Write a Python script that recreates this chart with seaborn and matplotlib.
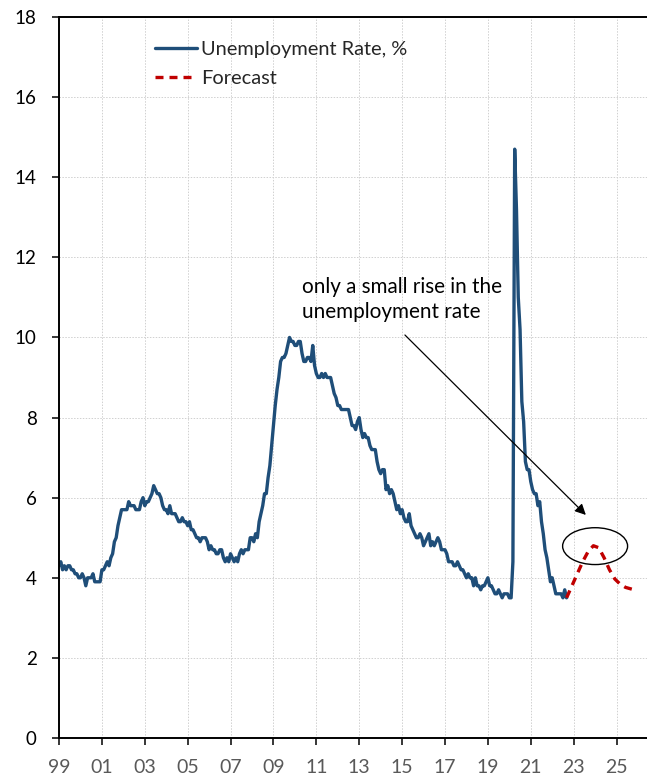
import numpy as np
import pandas as pd
import matplotlib
matplotlib.use("Agg")
import matplotlib.pyplot as plt
import seaborn as sns
from matplotlib.patches import Ellipse

# Monthly unemployment rate, Jan 1999 - Sep 2022
unrate = [
    4.3, 4.4, 4.2, 4.3, 4.2, 4.3, 4.3, 4.2, 4.2, 4.1, 4.1, 4.0,  # 1999
    4.0, 4.1, 4.0, 3.8, 4.0, 4.0, 4.0, 4.1, 3.9, 3.9, 3.9, 3.9,  # 2000
    4.2, 4.2, 4.3, 4.4, 4.3, 4.5, 4.6, 4.9, 5.0, 5.3, 5.5, 5.7,  # 2001
    5.7, 5.7, 5.7, 5.9, 5.8, 5.8, 5.8, 5.7, 5.7, 5.7, 5.9, 6.0,  # 2002
    5.8, 5.9, 5.9, 6.0, 6.1, 6.3, 6.2, 6.1, 6.1, 6.0, 5.8, 5.7,  # 2003
    5.7, 5.6, 5.8, 5.6, 5.6, 5.6, 5.5, 5.4, 5.4, 5.5, 5.4, 5.4,  # 2004
    5.3, 5.4, 5.2, 5.2, 5.1, 5.0, 5.0, 4.9, 5.0, 5.0, 5.0, 4.9,  # 2005
    4.7, 4.8, 4.7, 4.7, 4.6, 4.6, 4.7, 4.7, 4.5, 4.4, 4.5, 4.4,  # 2006
    4.6, 4.5, 4.4, 4.5, 4.4, 4.6, 4.7, 4.6, 4.7, 4.7, 4.7, 5.0,  # 2007
    5.0, 4.9, 5.1, 5.0, 5.4, 5.6, 5.8, 6.1, 6.1, 6.5, 6.8, 7.3,  # 2008
    7.8, 8.3, 8.7, 9.0, 9.4, 9.5, 9.5, 9.6, 9.8, 10.0, 9.9, 9.9,  # 2009
    9.8, 9.8, 9.9, 9.9, 9.6, 9.4, 9.4, 9.5, 9.5, 9.4, 9.8, 9.3,  # 2010
    9.1, 9.0, 9.0, 9.1, 9.0, 9.1, 9.0, 9.0, 9.0, 8.8, 8.6, 8.5,  # 2011
    8.3, 8.3, 8.2, 8.2, 8.2, 8.2, 8.2, 8.0, 7.8, 7.8, 7.7, 7.9,  # 2012
    8.0, 7.7, 7.5, 7.6, 7.5, 7.5, 7.3, 7.2, 7.2, 7.2, 6.9, 6.7,  # 2013
    6.6, 6.7, 6.7, 6.2, 6.3, 6.1, 6.2, 6.1, 5.9, 5.7, 5.8, 5.6,  # 2014
    5.7, 5.5, 5.4, 5.4, 5.6, 5.3, 5.2, 5.1, 5.0, 5.0, 5.1, 5.0,  # 2015
    4.8, 4.9, 5.0, 5.1, 4.8, 4.9, 4.8, 4.9, 5.0, 4.9, 4.7, 4.7,  # 2016
    4.7, 4.6, 4.4, 4.4, 4.4, 4.3, 4.3, 4.4, 4.3, 4.2, 4.2, 4.1,  # 2017
    4.0, 4.1, 4.0, 4.0, 3.8, 4.0, 3.8, 3.8, 3.7, 3.8, 3.8, 3.9,  # 2018
    4.0, 3.8, 3.8, 3.7, 3.6, 3.6, 3.7, 3.6, 3.5, 3.6, 3.6, 3.6,  # 2019
    3.5, 3.5, 4.4, 14.7, 13.2, 11.0, 10.2, 8.4, 7.9, 6.9, 6.7, 6.7,  # 2020
    6.4, 6.2, 6.1, 6.1, 5.8, 5.9, 5.4, 5.1, 4.7, 4.5, 4.2, 3.9,  # 2021
    4.0, 3.8, 3.6, 3.6, 3.6, 3.6, 3.5, 3.7, 3.5,                 # 2022
]
start_year = 1999

# Quarterly forecast path
fc_time = [2022.67, 2022.92, 2023.17, 2023.42, 2023.67, 2023.92, 2024.17,
           2024.42, 2024.67, 2024.92, 2025.17, 2025.42, 2025.75]
fc_rate = [3.5, 3.8, 4.1, 4.4, 4.65, 4.8, 4.75, 4.5, 4.2, 3.97, 3.84, 3.76, 3.71]

xtick_labels = ["99", "01", "03", "05", "07", "09", "11", "13", "15",
                "17", "19", "21", "23", "25"]

hist = pd.DataFrame({"t": start_year + np.arange(len(unrate)) / 12.0,
                     "rate": unrate})
fc = pd.DataFrame({"t": fc_time, "rate": fc_rate})

sns.set_theme(style="white")
plt.rcParams["font.family"] = ["Lato", "DejaVu Sans"]

fig = plt.figure(figsize=(6.47, 7.76), dpi=100)
ax = fig.add_axes([59 / 647, 1 - 738 / 776, 1 - 59 / 647, (738 - 17) / 776])

sns.lineplot(data=hist, x="t", y="rate", ax=ax, color="#1F4E79",
             linewidth=2.4, label="Unemployment Rate, %")
sns.lineplot(data=fc, x="t", y="rate", ax=ax, color="#C00000",
             linewidth=2.4, linestyle=(0, (2.4, 1.8)), label="Forecast")

ax.set_xlim(1999, 2026.42)
ax.set_ylim(0, 18)
ax.set_xticks(np.arange(1999, 2026, 2))
ax.set_xticklabels(xtick_labels)
ax.set_yticks(np.arange(0, 19, 2))
ax.set_xlabel("")
ax.set_ylabel("")

ax.grid(True, color="#D0D0D0", linestyle=(0, (1.5, 1.5)), linewidth=0.7)
for side in ["left", "bottom", "top"]:
    ax.spines[side].set_visible(True)
    ax.spines[side].set_color("black")
    ax.spines[side].set_linewidth(1.4)
ax.spines["right"].set_visible(False)

ax.tick_params(axis="x", direction="out", length=5, width=1.1, color="black",
               pad=10, labelsize=14, labelcolor="#595959", bottom=True)
ax.tick_params(axis="y", direction="out", length=5, width=1.1, color="black",
               pad=11, labelsize=13.5, labelcolor="black", left=True)

leg = ax.legend(loc="upper left", bbox_to_anchor=(0.15, 0.978), frameon=False,
                fontsize=14.4, handlelength=2.1, handletextpad=0.2,
                labelspacing=0.6, borderaxespad=0)

ax.add_patch(Ellipse((2024.0, 4.79), 3.03, 0.92, fill=False,
                     edgecolor="black", linewidth=1.0))

ax.annotate("", xy=(2023.66, 5.52), xytext=(2015.04, 10.11),
            arrowprops=dict(arrowstyle="-|>", color="black", lw=0.9,
                            mutation_scale=16))
ax.text(2010.33, 11.5, "only a small rise in the\nunemployment rate",
        fontsize=14.9, color="black", ha="left", va="top", linespacing=1.3)

fig.savefig("out.png", dpi=100)
